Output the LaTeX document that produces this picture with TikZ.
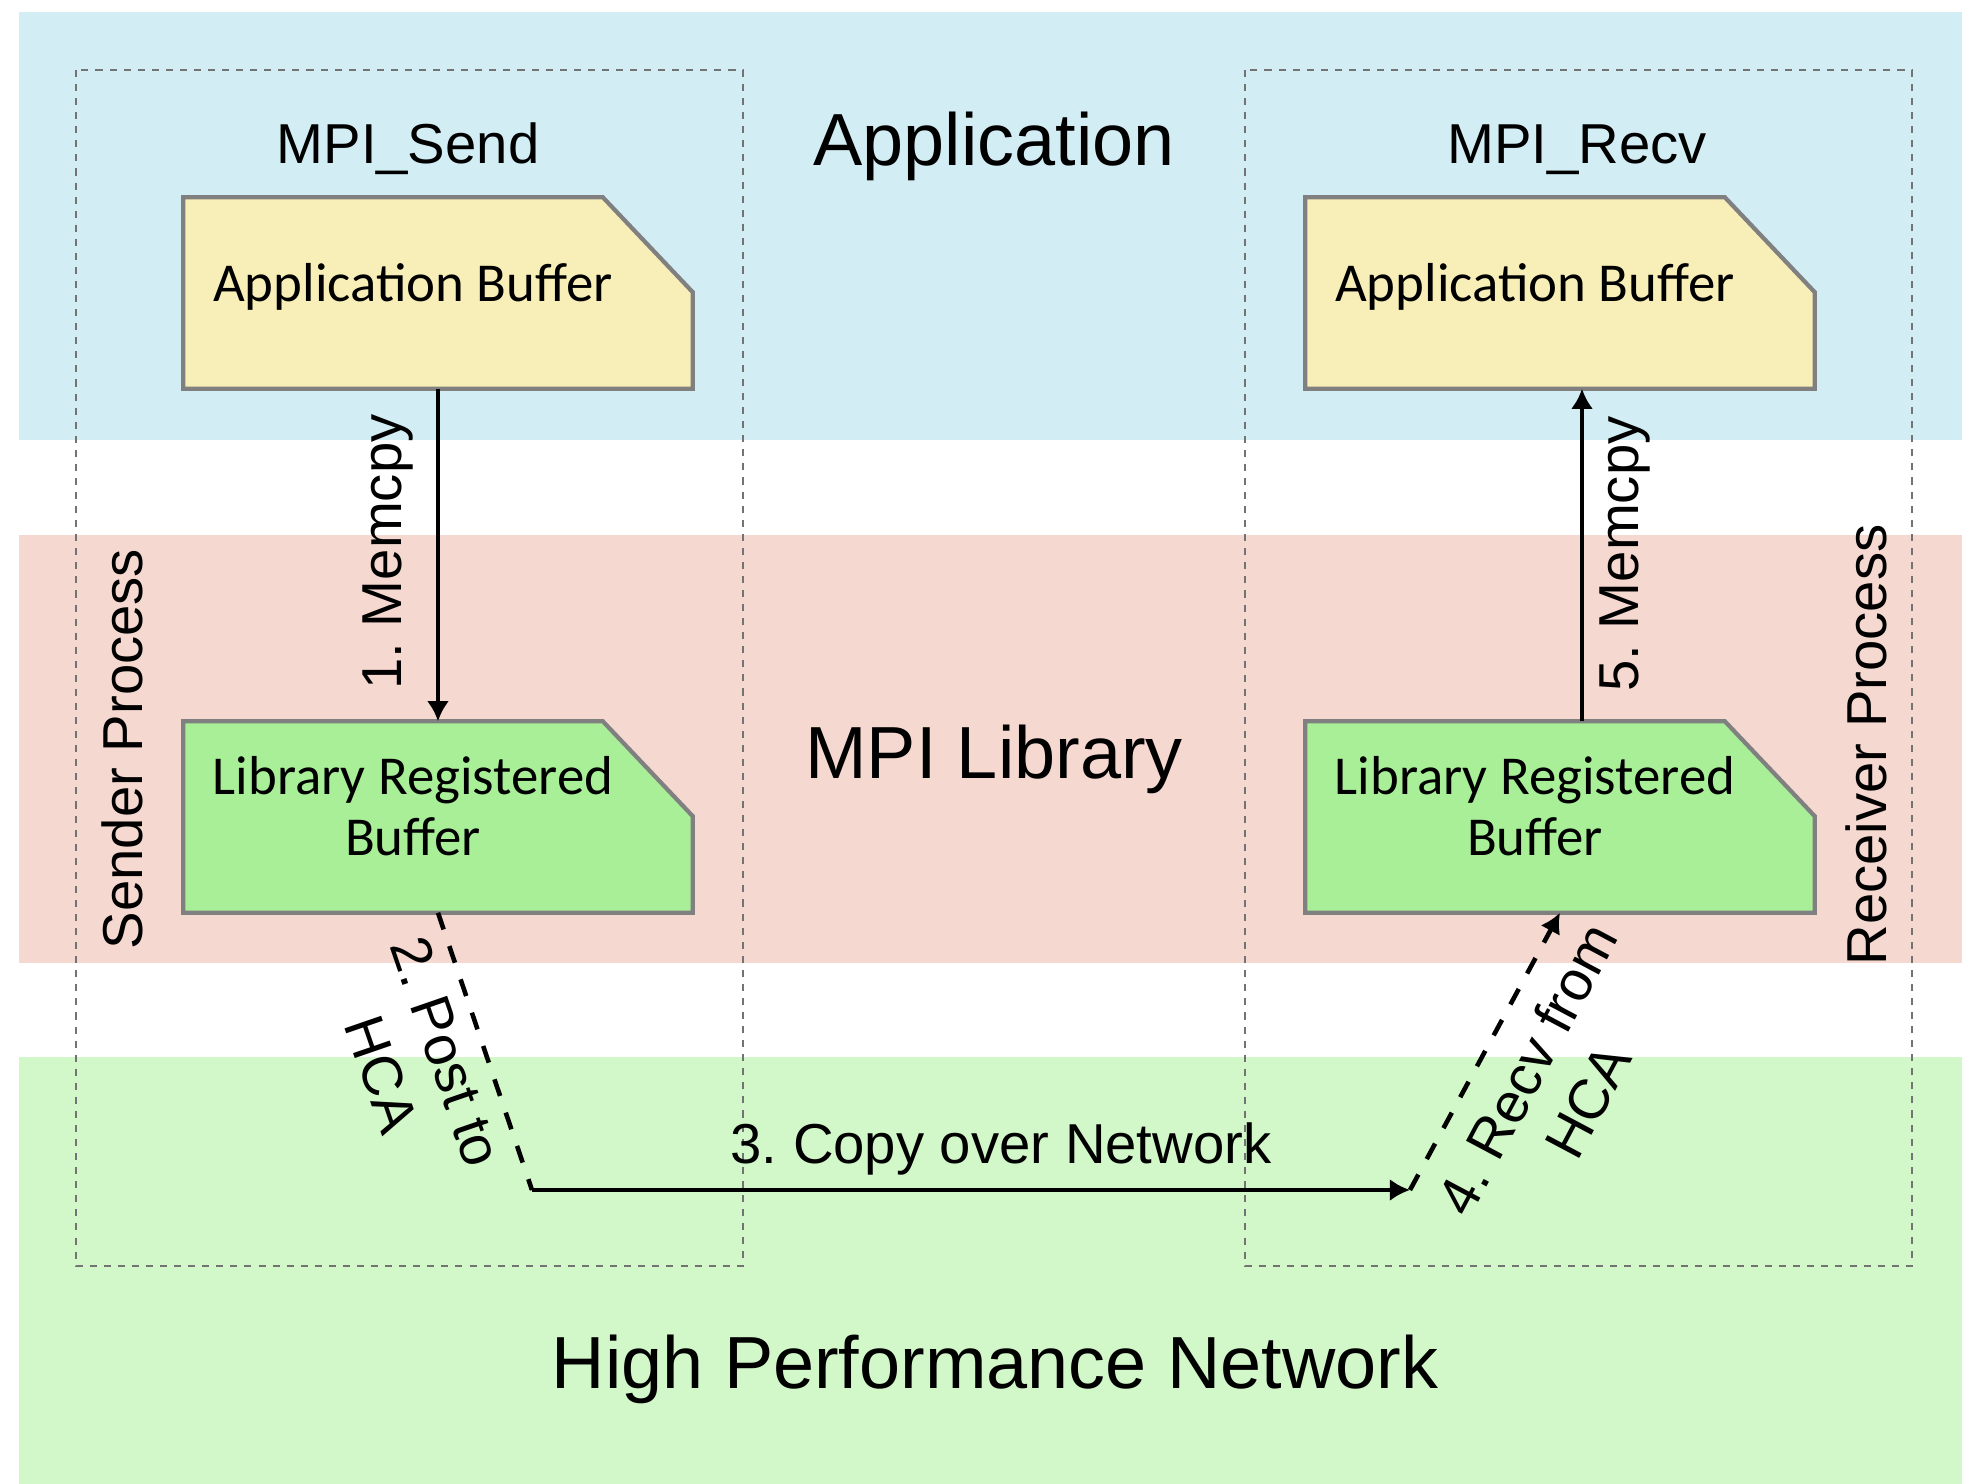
\documentclass[tikz,border=0pt]{standalone}
\usepackage{fontspec}
\setmainfont{Liberation Sans}
\newfontfamily\buffont{Carlito}
\usetikzlibrary{arrows.meta}
\definecolor{appband}{HTML}{D2EDF3}
\definecolor{libband}{HTML}{F5D8D0}
\definecolor{netband}{HTML}{D2F7C9}
\definecolor{appbuf}{HTML}{F8EFB8}
\definecolor{libbuf}{HTML}{A8EF98}
\tikzstyle{process}=[draw=black!55,line width=0.8pt,dash pattern=on 2pt off 2pt]
\tikzstyle{bufferbox}=[draw=none,minimum width=5.08cm,minimum height=1.9cm,inner sep=0pt]
\tikzstyle{bufline}=[draw=black!50,line width=1.2pt]
\tikzstyle{buftext}=[font=\buffont\fontsize{15.6}{17.5}\selectfont,align=center]
\tikzstyle{layertext}=[font=\fontsize{21}{25}\selectfont,anchor=base]
\tikzstyle{calltext}=[font=\fontsize{16}{19}\selectfont,anchor=base]
\tikzstyle{steptext}=[font=\fontsize{16}{19.5}\selectfont,inner sep=0pt]
\tikzstyle{flow}=[draw,line width=1.3pt,-{Latex[length=2mm,width=2.2mm]}]
\tikzstyle{dashflow}=[flow,dash pattern=on 5pt off 5pt]
\frenchspacing
\begin{document}
\begin{tikzpicture}[x=0.01cm,y=-0.01cm]
  \useasboundingbox (0,0) rectangle (1962,1484);
  % layers
  \fill[appband] (19,12) rectangle (1962,440);
  \fill[libband] (19,535) rectangle (1962,963);
  \fill[netband] (19,1057) rectangle (1962,1484);
  \node[layertext] (app) at (994,165) {Application};
  \node[layertext] (lib) at (994,778) {MPI Library};
  \node[layertext] (net) at (995,1388) {High Performance Network};
  % processes
  \draw[process] (76,70) rectangle (743,1266);
  \draw[process] (1245,70) rectangle (1912,1266);
  \node[calltext] (send) at (408,163) {MPI\_Send};
  \node[calltext] (recv) at (1577,163) {MPI\_Recv};
  \node[steptext,rotate=90,anchor=base] (sp) at (143,749) {Sender Process};
  \node[steptext,rotate=90,anchor=base] (rp) at (1886,745) {Receiver Process};
  % buffers
  \node[bufferbox] (SA) at (438,293) {};
  \node[bufferbox] (SL) at (438,817) {};
  \node[bufferbox] (RA) at (1560,293) {};
  \node[bufferbox] (RL) at (1560,817) {};
  \foreach \b/\c in {SA/appbuf,SL/libbuf,RA/appbuf,RL/libbuf}
    \filldraw[bufline,fill=\c] (\b.south west) |- ([xshift=-0.9cm]\b.north east)
      -- ([yshift=-0.95cm]\b.north east) |- cycle;
  \node[buftext] (SAt) at ([xshift=-0.25cm,yshift=0.06cm]SA.center) {Application Buffer};
  \node[buftext] (SLt) at ([xshift=-0.25cm,yshift=0.11cm]SL.center) {Library Registered\\Buffer};
  \node[buftext] (RAt) at ([xshift=-0.25cm,yshift=0.06cm]RA.center) {Application Buffer};
  \node[buftext] (RLt) at ([xshift=-0.25cm,yshift=0.11cm]RL.center) {Library Registered\\Buffer};
  % steps
  \coordinate (P) at (532,1190);
  \coordinate (Q) at (1410,1190);
  \draw[flow] (SA.south) -- (SL.north);
  \draw[dashflow,-] (SL.south) -- (P);
  \draw[flow] (P) -- (Q);
  \draw[dashflow] (Q) -- (RL.south);
  \draw[flow] ([xshift=0.22cm]RL.north) -- ([xshift=0.22cm]RA.south);
  \node[steptext,rotate=90,anchor=base] (m1) at (401,552) {1. Memcpy};
  \node[steptext,rotate=-71,align=center] (post) at (414,1063) {2. Post to\\HCA};
  \node[steptext,anchor=base] (copy) at (1001,1163) {3. Copy over Network};
  \node[steptext,rotate=62,align=center] (rcv) at (1557,1085) {4. Recv from\\HCA};
  \node[steptext,rotate=90,anchor=base] (m5) at (1638,554) {5. Memcpy};
\end{tikzpicture}
\end{document}
